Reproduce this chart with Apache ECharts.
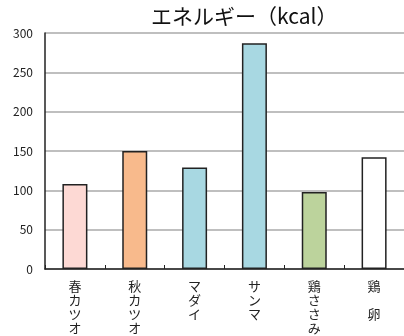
<!DOCTYPE html>
<html>
	<head>
		<meta charset="utf-8">
		<title>エネルギー</title>
		<script src="https://cdn.jsdelivr.net/npm/echarts@6/dist/echarts.min.js"></script>
		<style>
			html, body { margin: 0; padding: 0; background: #fff; }
		</style>
	</head>
	<body>
		<div id="main" style="width:404px;height:336px;"></div>
		<script>
			// データ
			var categories = ['春カツオ', '秋カツオ', 'マダイ', 'サンマ', '鶏ささみ', '鶏　卵'];
			var energy = [108, 150, 129, 287, 98, 142];
			var barColors = ['#fdd9d4', '#f8ba8c', '#a8d8e2', '#a8d8e2', '#bcd39c', '#ffffff'];
			var yTicks = [0, 50, 100, 150, 200, 250, 300];

			var chart = echarts.init(document.getElementById('main'));
			var font = '"Noto Sans CJK JP", "Noto Sans", sans-serif';

			var option = {
				animation: false,
				backgroundColor: '#fff',
				title: {
					text: 'エネルギー（kcal）',
					left: 146,
					top: 1,
					textStyle: { fontFamily: font, fontSize: 21, fontWeight: 'normal', color: '#111' }
				},
				grid: { left: 45, right: 0, top: 33, bottom: 67 },
				xAxis: {
					type: 'category',
					data: categories,
					axisLine: { lineStyle: { color: '#222', width: 1.5 } },
					axisTick: { show: true, inside: true, length: 4, interval: 0, lineStyle: { color: '#222' } },
					axisLabel: {
						interval: 0,
						margin: 10,
						fontFamily: font,
						fontSize: 13,
						lineHeight: 14,
						color: '#222',
						verticalAlign: 'top',
						formatter: function (v) { return v.split('').join('\n'); }
					}
				},
				yAxis: {
					type: 'value',
					min: yTicks[0],
					max: yTicks[yTicks.length - 1],
					interval: 50,
					axisLine: { show: true, lineStyle: { color: '#222', width: 1.5 } },
					axisTick: { show: false },
					splitLine: { lineStyle: { color: '#aaa', width: 1.5 } },
					axisLabel: { margin: 12, fontFamily: font, fontSize: 12, color: '#222' }
				},
				series: [{
					type: 'bar',
					barWidth: 25,
					data: energy.map(function (v, i) {
						return { value: v, itemStyle: { color: barColors[i] } };
					}),
					itemStyle: { borderColor: '#222', borderWidth: 1.5 }
				}]
			};

			chart.setOption(option);
		</script>
	</body>
</html>
